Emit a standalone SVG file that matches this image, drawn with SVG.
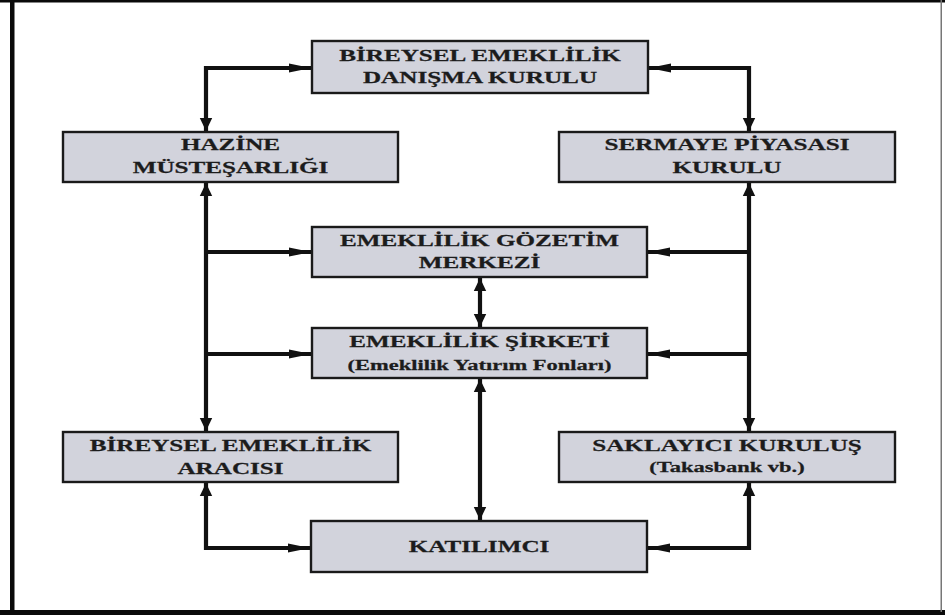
<svg xmlns="http://www.w3.org/2000/svg" width="945" height="615" viewBox="0 0 945 615">
  <style>
    .box { fill: #d2d3dc; stroke: #1a1a1a; stroke-width: 2.4; }
    .lbl { font-family: "Liberation Serif", "Times New Roman", serif; font-weight: bold; font-size: 17px; fill: #1c1c1c; stroke: #1c1c1c; stroke-width: 0.25; text-anchor: middle; }
    .sub { font-size: 15.2px; }
    .wire { fill: none; stroke: #111; stroke-width: 4.2; stroke-linejoin: miter; }
    .frame { fill: #0a0a0a; }
  </style>
  <defs>
    <!-- arrowheads: flatter on horizontal runs, squarer on vertical runs -->
    <marker id="ah-h" markerUnits="userSpaceOnUse" markerWidth="24" markerHeight="12" viewBox="0 -6 24 12" refX="22" refY="0" orient="auto-start-reverse">
      <path d="M0,-4.6 L22,0 L0,4.6 Z" fill="#111"/>
    </marker>
    <marker id="ah-v" markerUnits="userSpaceOnUse" markerWidth="16" markerHeight="16" viewBox="0 -8 16 16" refX="13" refY="0" orient="auto-start-reverse">
      <path d="M0,-6.2 L13,0 L0,6.2 Z" fill="#111"/>
    </marker>
  </defs>

  <!-- page background and frame -->
  <rect x="0" y="0" width="945" height="615" fill="#ffffff"/>
  <rect class="frame" x="0" y="0" width="945" height="2.5"/>
  <rect class="frame" x="10" y="0" width="4.5" height="615"/>
  <rect class="frame" x="0" y="610" width="945" height="5"/>
  <rect x="940.5" y="0" width="1.5" height="612" fill="#777"/>

  <!-- connectors -->
  <g id="connectors">
    <path class="wire" d="M311,68 H206 V131" marker-start="url(#ah-h)" marker-end="url(#ah-v)"/>
    <path class="wire" d="M649,68 H749 V131" marker-start="url(#ah-h)" marker-end="url(#ah-v)"/>
    <path class="wire" d="M206,183 V431" marker-start="url(#ah-v)" marker-end="url(#ah-v)"/>
    <path class="wire" d="M206,252 H311" marker-end="url(#ah-h)"/>
    <path class="wire" d="M206,354 H311" marker-end="url(#ah-h)"/>
    <path class="wire" d="M749,183 V431" marker-start="url(#ah-v)" marker-end="url(#ah-v)"/>
    <path class="wire" d="M749,252 H648" marker-end="url(#ah-h)"/>
    <path class="wire" d="M749,354 H648" marker-end="url(#ah-h)"/>
    <path class="wire" d="M480,278 V327" marker-start="url(#ah-v)" marker-end="url(#ah-v)"/>
    <path class="wire" d="M480,379 V520" marker-start="url(#ah-v)" marker-end="url(#ah-v)"/>
    <path class="wire" d="M206,483 V548 H310" marker-start="url(#ah-v)" marker-end="url(#ah-h)"/>
    <path class="wire" d="M749,483 V548 H648" marker-start="url(#ah-v)" marker-end="url(#ah-h)"/>
  </g>

  <!-- nodes -->
  <g id="danisma-kurulu">
    <rect class="box" x="312" y="41" width="336" height="52"/>
    <text class="lbl" transform="translate(480,60.5) scale(1.48,1)">BİREYSEL EMEKLİLİK</text>
    <text class="lbl" transform="translate(480,83) scale(1.48,1)">DANIŞMA KURULU</text>
  </g>

  <g id="hazine">
    <rect class="box" x="63" y="132" width="335" height="50"/>
    <text class="lbl" transform="translate(230.5,149.5) scale(1.48,1)">HAZİNE</text>
    <text class="lbl" transform="translate(230.5,172.5) scale(1.48,1)">MÜSTEŞARLIĞI</text>
  </g>

  <g id="spk">
    <rect class="box" x="559" y="132" width="336" height="50"/>
    <text class="lbl" transform="translate(727,149.5) scale(1.48,1)">SERMAYE PİYASASI</text>
    <text class="lbl" transform="translate(727,172.5) scale(1.48,1)">KURULU</text>
  </g>

  <g id="gozetim-merkezi">
    <rect class="box" x="312" y="227" width="335" height="50"/>
    <text class="lbl" transform="translate(479.5,245.5) scale(1.48,1)">EMEKLİLİK GÖZETİM</text>
    <text class="lbl" transform="translate(479.5,267.5) scale(1.48,1)">MERKEZİ</text>
  </g>

  <g id="emeklilik-sirketi">
    <rect class="box" x="312" y="328" width="335" height="50"/>
    <text class="lbl" transform="translate(479.5,347) scale(1.48,1)">EMEKLİLİK ŞİRKETİ</text>
    <text class="lbl sub" transform="translate(479.5,370) scale(1.48,1)">(Emeklilik Yatırım Fonları)</text>
  </g>

  <g id="aracisi">
    <rect class="box" x="63" y="432" width="335" height="50"/>
    <text class="lbl" transform="translate(230.5,450.5) scale(1.48,1)">BİREYSEL EMEKLİLİK</text>
    <text class="lbl" transform="translate(230.5,473.5) scale(1.48,1)">ARACISI</text>
  </g>

  <g id="saklayici">
    <rect class="box" x="559" y="432" width="336" height="50"/>
    <text class="lbl" transform="translate(727,450.5) scale(1.48,1)">SAKLAYICI KURULUŞ</text>
    <text class="lbl sub" transform="translate(727,471.5) scale(1.48,1)">(Takasbank vb.)</text>
  </g>

  <g id="katilimci">
    <rect class="box" x="311" y="521" width="336" height="51"/>
    <text class="lbl" transform="translate(479,552) scale(1.48,1)">KATILIMCI</text>
  </g>
</svg>
